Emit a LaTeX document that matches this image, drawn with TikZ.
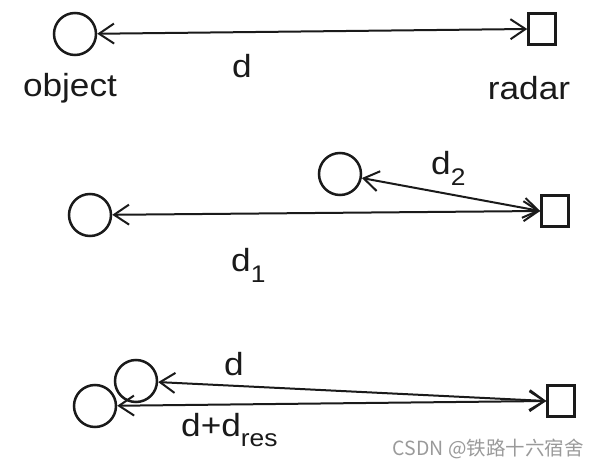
\documentclass[tikz,border=0pt]{standalone}
\usepackage{fontspec}
\setmainfont{Liberation Sans}
\newfontfamily\cjkfont{Noto Sans CJK SC}
\usepackage{xcolor}
\definecolor{inkblack}{HTML}{1A1A1A}
\definecolor{markgray}{HTML}{9A9A9A}
\usepackage{tikz}
\usetikzlibrary{arrows.meta}
\newcommand{\widelbl}[1]{\scalebox{1.1}[1]{#1}}
\newcommand{\lowsub}[1]{\raisebox{-0.32em}{\fontsize{24}{26}\selectfont #1}}

\begin{document}
\begin{tikzpicture}[x=1pt,y=-1pt,
  target/.style={circle,draw=inkblack,line width=2.5pt,minimum size=42pt,inner sep=0pt},
  radarbox/.style={rectangle,draw=inkblack,line width=2.5pt,minimum width=27pt,minimum height=31pt,inner sep=0pt},
  rangeline/.style={draw=inkblack,line width=2pt,{Straight Barb[length=15pt,width=20pt]}-{Straight Barb[length=15pt,width=20pt]}},
  lbl/.style={font=\fontsize{32}{36}\selectfont,text=inkblack,inner sep=0pt}]
  \useasboundingbox (0,0) rectangle (600,465);

  % single target
  \node[target] (obj) at (75,34) {};
  \node[radarbox] (rad) at (542,29) {};
  \draw[rangeline] (obj) -- (rad.west);
  \node[lbl,anchor=base] (lobj) at (70,97) {\widelbl{object}};
  \node[lbl,anchor=base] (lrad) at (529,100) {\widelbl{radar}};
  \node[lbl,anchor=base] (ld) at (242,78) {\widelbl{d}};

  % two targets, different ranges
  \node[target] (farobj) at (90,215) {};
  \node[target] (nearobj) at (340,174) {};
  \node[radarbox] (radb) at (555,211) {};
  \draw[rangeline] (farobj) -- (radb.west);
  \draw[rangeline] (nearobj) -- (radb.west);
  \node[lbl,anchor=base west] (ldone) at (231,272) {\widelbl{d\lowsub{1}}};
  \node[lbl,anchor=base west] (ldtwo) at (431,175) {\widelbl{d\lowsub{2}}};

  % two targets within range resolution
  \node[target] (upobj) at (136,381) {};
  \node[target] (lowobj) at (95,406) {};
  \node[radarbox] (radc) at (561,401) {};
  \draw[rangeline] (upobj) -- (radc.west);
  \draw[rangeline] (lowobj) -- (radc.west);
  \node[lbl,anchor=base] (ldup) at (234,375) {\widelbl{d}};
  \node[lbl,anchor=base west] (ldres) at (181,436) {\widelbl{d+d\lowsub{res}}};

  \node[font=\cjkfont\fontsize{19.5}{21}\selectfont,text=markgray,anchor=base east,inner sep=0pt] (mark) at (584,455) {CSDN @铁路十六宿舍};
\end{tikzpicture}
\end{document}
